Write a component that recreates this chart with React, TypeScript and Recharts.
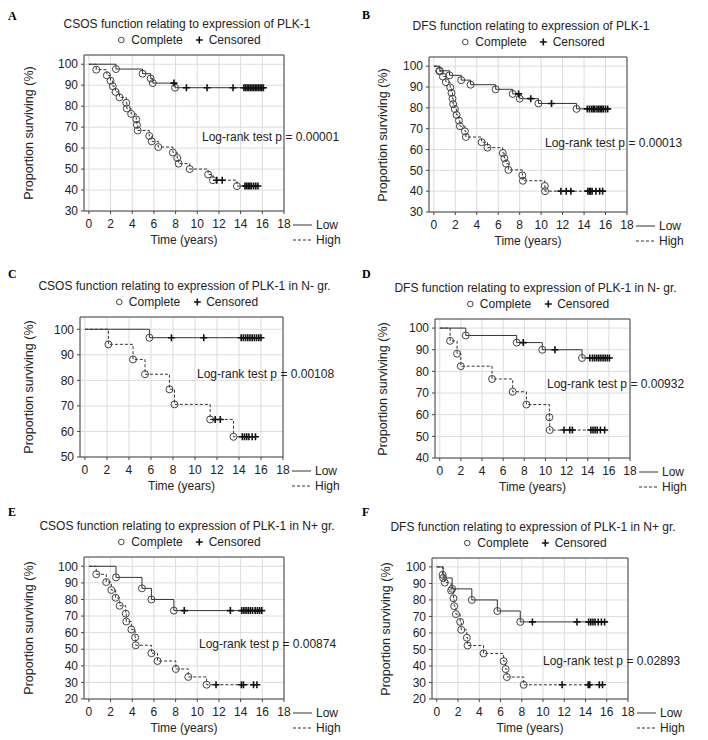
// Kaplan-Meier panels A-F: PLK-1 expression, survival curves drawn with recharts.

import { CartesianGrid, ComposedChart, Line, ReferenceArea, Scatter, XAxis, YAxis } from "recharts";

type Pt = [number, number]; // [time in years, proportion surviving after the event]

const xTicks = [0, 2, 4, 6, 8, 10, 12, 14, 16, 18];
const yTicks30 = [30, 40, 50, 60, 70, 80, 90, 100];
const yTicks50 = [50, 60, 70, 80, 90, 100];
const yTicks40 = [40, 50, 60, 70, 80, 90, 100];
const yTicks20 = [20, 30, 40, 50, 60, 70, 80, 90, 100];

const letters = ["A", "B", "C", "D", "E", "F"];
const titles = [
	"CSOS function relating to expression of PLK-1",
	"DFS function relating to expression of PLK-1",
	"CSOS function relating to expression of PLK-1 in N- gr.",
	"DFS function relating to expression of PLK-1 in N- gr.",
	"CSOS function relating to expression of PLK-1 in N+ gr.",
	"DFS function relating to expression of PLK-1 in N+ gr.",
];
const pValues = ["0.00001", "0.00013", "0.00108", "0.00932", "0.00874", "0.02893"];

// A
const aLowEvents: Pt[] = [[2.5, 97.7], [4.95, 95.5], [5.7, 93.2], [5.9, 91.0], [7.95, 88.8]];
const aLowCensored = [7.85, 9.0, 10.9, 13.3, 14.3, 14.45, 14.6, 14.75, 14.9, 15.05, 15.2, 15.35, 15.5, 15.65, 15.8, 15.95, 16.1];
const aHighEvents: Pt[] = [
	[0.68, 97.4], [1.66, 94.7], [2.0, 92.1], [2.2, 89.5], [2.46, 86.8], [2.83, 84.2], [3.45, 81.6], [3.5, 78.9],
	[3.9, 76.3], [4.37, 73.7], [4.43, 71.1], [4.5, 68.4], [5.57, 65.8], [5.8, 63.2], [6.4, 60.5], [7.75, 57.9],
	[8.15, 55.3], [8.28, 52.6], [9.3, 50.0], [11.0, 47.4], [11.45, 44.7], [13.66, 41.9],
];
const aHighCensored = [11.8, 12.3, 14.4, 14.55, 14.7, 14.85, 15.0, 15.2, 15.4, 15.6];

// B
const bLowEvents: Pt[] = [[0.56, 97.8], [1.46, 95.6], [2.55, 93.3], [3.43, 91.1], [5.76, 88.9], [7.35, 86.7], [8.0, 84.4], [9.75, 82.1], [13.3, 79.5]];
const bLowCensored = [7.9, 9.03, 10.97, 14.3, 14.5, 14.7, 14.85, 15.0, 15.2, 15.35, 15.5, 15.65, 15.8, 16.0, 16.2];
const bHighEvents: Pt[] = [
	[0.5, 97.6], [0.84, 95.0], [1.12, 92.3], [1.53, 89.8], [1.65, 87.2], [1.74, 84.4], [1.8, 81.8], [1.96, 79.4],
	[2.12, 76.6], [2.34, 73.9], [2.43, 71.2], [2.9, 68.7], [2.99, 66.0], [4.45, 63.5], [5.0, 60.9], [6.42, 58.3],
	[6.57, 55.8], [6.73, 53.2], [6.95, 50.2], [8.25, 47.6], [8.3, 45.0], [10.34, 42.5], [10.36, 40.0],
];
const bHighCensored = [11.84, 12.34, 12.77, 14.35, 14.5, 14.6, 14.75, 15.1, 15.45, 15.73];

// C
const cLowEvents: Pt[] = [[5.86, 96.7]];
const cLowCensored = [7.86, 10.8, 14.2, 14.4, 14.6, 14.8, 15.0, 15.2, 15.4, 15.6, 15.8, 16.0];
const cHighEvents: Pt[] = [[2.13, 94.1], [4.37, 88.2], [5.46, 82.4], [7.68, 76.5], [8.14, 70.6], [11.38, 64.7], [13.5, 57.9]];
const cHighCensored = [11.84, 12.3, 14.3, 14.5, 14.7, 14.9, 15.2, 15.5];

// D
const dLowEvents: Pt[] = [[2.46, 96.6], [7.28, 93.3], [9.7, 90.0], [13.46, 86.2]];
const dLowCensored = [7.9, 10.9, 14.2, 14.45, 14.65, 14.85, 15.05, 15.25, 15.45, 15.65, 15.85, 16.05];
const dHighEvents: Pt[] = [[0.98, 94.1], [1.64, 88.2], [1.99, 82.4], [4.95, 76.5], [6.9, 70.6], [8.2, 64.7], [10.37, 58.8], [10.4, 52.9]];
const dHighCensored = [11.76, 12.3, 12.55, 14.3, 14.5, 14.7, 14.9, 15.2, 15.6];

// E
const eLowEvents: Pt[] = [[2.5, 93.3], [4.9, 86.7], [5.77, 80.0], [7.84, 73.3]];
const eLowCensored = [8.8, 13.05, 14.1, 14.3, 14.5, 14.7, 14.9, 15.1, 15.35, 15.55, 15.75, 15.95];
const eHighEvents: Pt[] = [
	[0.68, 95.2], [1.6, 90.5], [2.07, 85.7], [2.47, 81.0], [2.84, 76.2], [3.4, 71.4], [3.45, 66.7], [3.92, 61.9],
	[4.26, 57.1], [4.32, 52.4], [5.77, 47.6], [6.33, 42.9], [8.02, 38.1], [9.17, 33.3], [10.86, 28.6],
];
const eHighCensored = [11.73, 14.07, 14.26, 15.19, 15.5];

// F
const fLowEvents: Pt[] = [[0.6, 93.3], [1.45, 86.7], [3.3, 80.0], [5.7, 73.3], [7.86, 66.7]];
const fLowCensored = [9.0, 13.2, 14.3, 14.5, 14.7, 14.9, 15.2, 15.5, 15.8];
const fHighEvents: Pt[] = [
	[0.55, 95.2], [0.75, 90.5], [1.35, 85.7], [1.57, 81.0], [1.64, 76.2], [1.8, 71.4], [2.2, 66.7], [2.3, 61.9],
	[2.83, 57.1], [2.9, 52.4], [4.4, 47.6], [6.29, 42.9], [6.48, 38.1], [6.6, 33.3], [8.18, 28.6],
];
const fHighCensored = [11.8, 14.25, 14.4, 15.3, 15.6];

const FONT = "'Liberation Sans', Arial, sans-serif";
const INK = "#222";

// page geometry of each plot frame (px, py = chart origin; l/r/t/b = frame edges)
const layout = [
	{ px: 0, py: 0, l: 84, r: 284, t: 55, b: 211, yTop: 104.4, ticks: yTicks30, labX: 29, pX: 202, pY: 137, letY: 16 },
	{ px: 354, py: 0, l: 429, r: 627, t: 57, b: 212, yTop: 104.4, ticks: yTicks30, labX: 383, pX: 545, pY: 143, letY: 15 },
	{ px: 0, py: 245, l: 80, r: 283, t: 317, b: 457, yTop: 104.8, ticks: yTicks50, labX: 29, pX: 197, pY: 374, letY: 274 },
	{ px: 354, py: 245, l: 435, r: 630, t: 319, b: 458, yTop: 104.2, ticks: yTicks40, labX: 383, pX: 547, pY: 384, letY: 274 },
	{ px: 0, py: 490, l: 84, r: 284, t: 557, b: 699, yTop: 105.6, ticks: yTicks20, labX: 29, pX: 199, pY: 644, letY: 512 },
	{ px: 354, py: 490, l: 432, r: 628, t: 558, b: 699, yTop: 105.4, ticks: yTicks20, labX: 386, pX: 543, pY: 661, letY: 512 },
];

const series = [
	[aLowEvents, aLowCensored, aHighEvents, aHighCensored],
	[bLowEvents, bLowCensored, bHighEvents, bHighCensored],
	[cLowEvents, cLowCensored, cHighEvents, cHighCensored],
	[dLowEvents, dLowCensored, dHighEvents, dHighCensored],
	[eLowEvents, eLowCensored, eHighEvents, eHighCensored],
	[fLowEvents, fLowCensored, fHighEvents, fHighCensored],
] as [Pt[], number[], Pt[], number[]][];

const CW = 354;
const CH = 250;
const Y_W = 40;
const X_H = 30;
const X_MIN = -0.45;

function levelAt(events: Pt[], t: number) {
	let s = 100;
	for (const [et, es] of events) if (et <= t) s = es;
	return s;
}

function curve(events: Pt[], censored: number[]) {
	const pts = [
		{ t: 0, s: 100 },
		...events.map(([t, s]) => ({ t, s })),
		...censored.map((t) => ({ t, s: levelAt(events, t) })),
	];
	return pts.sort((a, b) => a.t - b.t);
}

const censorPts = (events: Pt[], censored: number[]) => censored.map((t) => ({ t, s: levelAt(events, t) }));
const eventPts = (events: Pt[]) => events.map(([t, s]) => ({ t, s }));

const OpenCircle = (p: any) => <circle cx={p.cx} cy={p.cy} r={3.5} fill="none" stroke="#444" strokeWidth={1} />;
const PlusMark = (p: any) => (
	<path d={`M${p.cx - 3.5},${p.cy}h7M${p.cx},${p.cy - 3.5}v7`} stroke="#111" strokeWidth={1.6} fill="none" />
);

function Txt({ x, y, children, anchor = "middle", size = 12, style }: any) {
	const tx = anchor === "middle" ? "-50%" : anchor === "end" ? "-100%" : "0";
	return (
		<div
			style={{
				position: "absolute",
				left: x,
				top: y,
				transform: `translate(${tx},-50%)`,
				fontFamily: FONT,
				fontSize: size,
				lineHeight: 1,
				whiteSpace: "nowrap",
				color: INK,
				...style,
			}}
		>
			{children}
		</div>
	);
}

function Panel({ i }: { i: number }) {
	const g = layout[i];
	const [lowEv, lowCen, highEv, highCen] = series[i];
	const yMin = g.ticks[0];
	const cx = (g.l + g.r) / 2;
	const cy = (g.t + g.b) / 2;
	const tick = { fontFamily: FONT, fontSize: 12, fill: INK };
	return (
		<>
			<div style={{ position: "absolute", left: g.px, top: g.py }}>
				<ComposedChart
					width={CW}
					height={CH}
					margin={{ left: g.l - g.px - Y_W, right: g.px + CW - g.r, top: g.t - g.py, bottom: g.py + CH - g.b - X_H }}
				>
					<CartesianGrid stroke="#dcdcdc" strokeWidth={1} />
					<XAxis
						type="number"
						dataKey="t"
						domain={[X_MIN, 18]}
						ticks={xTicks}
						allowDataOverflow
						height={X_H}
						axisLine={false}
						tickSize={3}
						tickMargin={5}
						tickLine={{ stroke: "#444" }}
						tick={tick}
						interval={0}
					/>
					<YAxis
						type="number"
						dataKey="s"
						domain={[yMin, g.yTop]}
						ticks={g.ticks}
						allowDataOverflow
						width={Y_W}
						axisLine={false}
						tickSize={3}
						tickMargin={3}
						tickLine={{ stroke: "#444" }}
						tick={tick}
						interval={0}
					/>
					<ReferenceArea x1={X_MIN} x2={18} y1={yMin} y2={g.yTop} fill="none" stroke="#444" strokeWidth={1} />
					<Line data={curve(lowEv, lowCen)} dataKey="s" type="stepAfter" stroke="#333" strokeWidth={1} dot={false} isAnimationActive={false} />
					<Line data={curve(highEv, highCen)} dataKey="s" type="stepAfter" stroke="#333" strokeWidth={1} strokeDasharray="3 2" dot={false} isAnimationActive={false} />
					<Scatter data={eventPts(lowEv)} dataKey="s" shape={OpenCircle} isAnimationActive={false} />
					<Scatter data={eventPts(highEv)} dataKey="s" shape={OpenCircle} isAnimationActive={false} />
					<Scatter data={censorPts(lowEv, lowCen)} dataKey="s" shape={PlusMark} isAnimationActive={false} />
					<Scatter data={censorPts(highEv, highCen)} dataKey="s" shape={PlusMark} isAnimationActive={false} />
				</ComposedChart>
			</div>

			<div
				style={{
					position: "absolute",
					left: g.px + 8,
					top: g.letY,
					transform: "translateY(-50%)",
					fontFamily: "'Liberation Serif', serif",
					fontWeight: "bold",
					fontSize: 12,
					lineHeight: 1,
				}}
			>
				{letters[i]}
			</div>
			<Txt x={cx + 3} y={g.t - 31}>{titles[i]}</Txt>
			<div
				style={{
					position: "absolute",
					left: cx + 5,
					top: g.t - 15,
					transform: "translate(-50%,-50%)",
					display: "flex",
					alignItems: "center",
					fontFamily: FONT,
					fontSize: 12,
					lineHeight: 1,
					color: INK,
					whiteSpace: "nowrap",
				}}
			>
				<svg width={8} height={8}>
					<circle cx={4} cy={4} r={2.8} fill="none" stroke="#444" strokeWidth={1} />
				</svg>
				<span style={{ marginLeft: 6 }}>Complete</span>
				<svg width={8} height={8} style={{ marginLeft: 13 }}>
					<path d="M0.5,4h7M4,0.5v7" stroke="#111" strokeWidth={1.6} />
				</svg>
				<span style={{ marginLeft: 5 }}>Censored</span>
			</div>
			<Txt x={g.labX} y={cy} size={12.5} style={{ transform: "translate(-50%,-50%) rotate(-90deg)" }}>
				Proportion surviving (%)
			</Txt>
			<Txt x={cx} y={g.b + 29}>Time (years)</Txt>
			<Txt x={g.pX} y={g.pY} anchor="start">Log-rank test p = {pValues[i]}</Txt>
			<svg style={{ position: "absolute", left: g.r + 9, top: g.b + 10 }} width={20} height={24}>
				<line x1={0} y1={4} x2={19} y2={4} stroke="#333" strokeWidth={1} />
				<line x1={0} y1={19} x2={19} y2={19} stroke="#333" strokeWidth={1} strokeDasharray="3 2" />
			</svg>
			<Txt x={g.r + 32} y={g.b + 14} anchor="start">Low</Txt>
			<Txt x={g.r + 32} y={g.b + 29} anchor="start">High</Txt>
		</>
	);
}

export default function App() {
	return (
		<div style={{ position: "absolute", left: 0, top: 0, width: 708, height: 740, background: "#fff", overflow: "hidden" }}>
			{layout.map((_, i) => (
				<Panel key={i} i={i} />
			))}
		</div>
	);
}
